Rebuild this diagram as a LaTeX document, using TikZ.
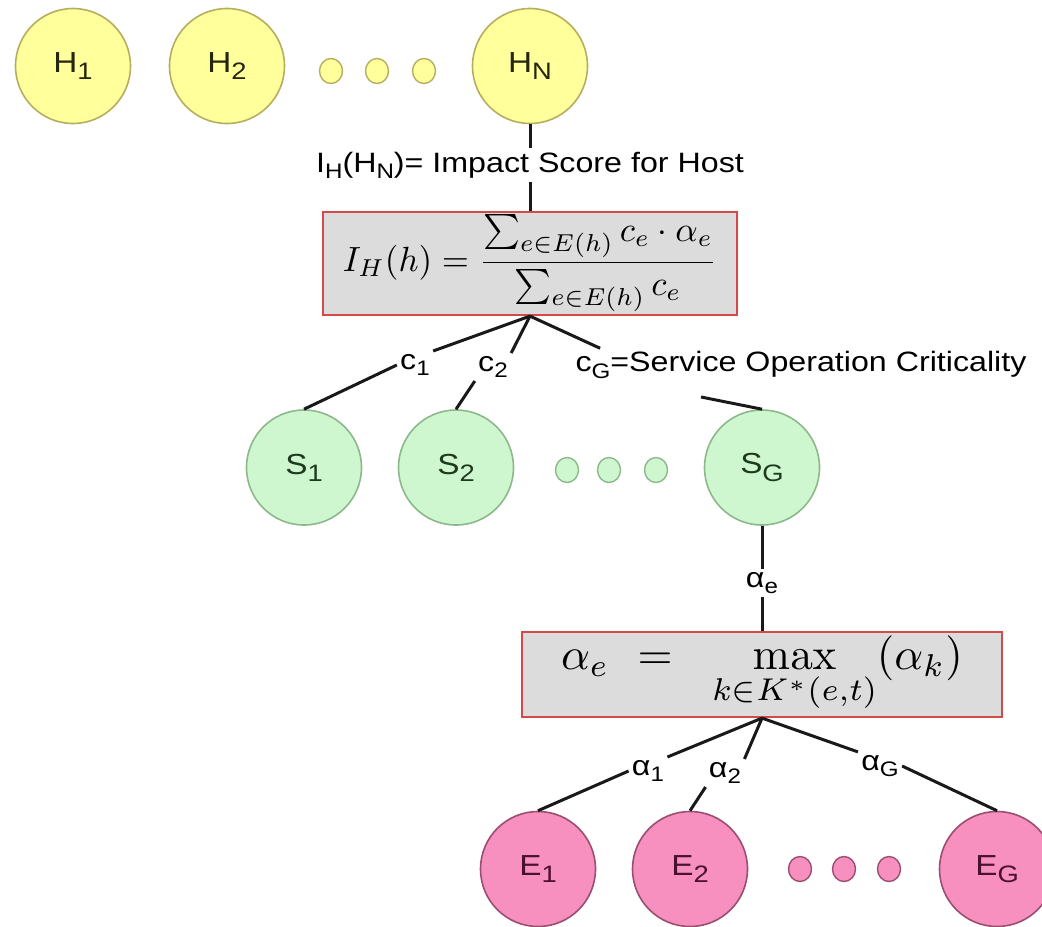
\documentclass[tikz,border=0pt]{standalone}
\usepackage[no-math]{fontspec}
\usepackage{amsmath}
\usepackage{graphicx}
\usetikzlibrary{shapes.geometric}

% sans labels, slightly widened
\newfontfamily\labfont{Liberation Sans}[FakeStretch=1.15]
\newcommand\lowsub[1]{\raisebox{-0.22em}{\scalebox{0.75}{#1}}}
\newcommand\nodesub[1]{\raisebox{-0.25em}{\scalebox{0.82}{#1}}}

\definecolor{hfill}{HTML}{FFFF9C}
\definecolor{hdraw}{HTML}{B5AE5E}
\definecolor{htext}{HTML}{26260E}
\definecolor{sfill}{HTML}{CFF7CF}
\definecolor{sdraw}{HTML}{8CB88C}
\definecolor{stext}{HTML}{1E3A1E}
\definecolor{efill}{HTML}{F78FBF}
\definecolor{edraw}{HTML}{9A4E70}
\definecolor{etext}{HTML}{4A1030}
\definecolor{boxfill}{HTML}{DCDCDC}
\definecolor{boxdraw}{HTML}{D44A4A}

\tikzset{
  vertex/.style={circle, line width=0.8pt, minimum size=57.5pt, inner sep=0pt,
    font=\fontsize{14.5}{17}\labfont},
  hostnode/.style={vertex, draw=hdraw, fill=hfill, text=htext},
  servnode/.style={vertex, draw=sdraw, fill=sfill, text=stext},
  evtnode/.style={vertex, draw=edraw, fill=efill, text=etext},
  gapdot/.style={ellipse, line width=0.7pt, minimum width=11.5pt,
    minimum height=12.5pt, inner sep=0pt},
  hostdot/.style={gapdot, draw=hdraw, fill=hfill},
  servdot/.style={gapdot, draw=sdraw, fill=sfill},
  evtdot/.style={gapdot, draw=edraw, fill=efill},
  formbox/.style={draw=boxdraw, fill=boxfill, line width=1.1pt, inner sep=0pt},
  edgelab/.style={font=\fontsize{14}{16}\labfont, inner sep=1.5pt},
  link/.style={draw=black!90, line width=1.5pt},
}

\begin{document}
\begin{tikzpicture}[x=0.5pt,y=-0.5pt]
\useasboundingbox (0,0) rectangle (1042,926);

% hosts
\node[hostnode] (H1) at (73,66) {H\nodesub{1}};
\node[hostnode] (H2) at (227,66) {H\nodesub{2}};
\node[hostdot] (hd1) at (331,71) {};
\node[hostdot] (hd2) at (377,71) {};
\node[hostdot] (hd3) at (424,71) {};
\node[hostnode] (HN) at (530,66) {H\nodesub{N}};

\node[edgelab] (IH) at (530,165) {I\lowsub{H}(H\lowsub{N})= Impact Score for Host};

\node[formbox, minimum width=207pt, minimum height=51.5pt] (B1) at (530,263.5)
  {\scalebox{1.75}{$\displaystyle I_H(h)=\frac{\sum_{e\in E(h)} c_e\cdot\alpha_e}{\sum_{e\in E(h)} c_e}$}};

% services
\node[servnode] (S1) at (304,467.5) {S\nodesub{1}};
\node[servnode] (S2) at (456,467.5) {S\nodesub{2}};
\node[servdot] (sd1) at (567,470) {};
\node[servdot] (sd2) at (609,470) {};
\node[servdot] (sd3) at (656,470) {};
\node[servnode] (SG) at (762,467.5) {S\nodesub{G}};

\node[edgelab] (c1) at (415,365) {c\lowsub{1}};
\node[edgelab] (c2) at (493,367) {c\lowsub{2}};
\node[edgelab] (cG) at (801,365) {c\lowsub{G}=Service Operation Criticality};
\coordinate (cGfoot) at (701,397);

\node[edgelab] (ae) at (762,583) {α\lowsub{e}};

\node[formbox, minimum width=240pt, minimum height=42.5pt] (B2) at (762,674.5)
  {\scalebox{2.25}{$\displaystyle \alpha_e\hspace{0.35em}=\hspace{0.6em}\max_{k\in K^*(e,t)}(\alpha_k)$}};

\node[edgelab] (a1) at (648,771) {α\lowsub{1}};
\node[edgelab] (a2) at (725,773) {α\lowsub{2}};
\node[edgelab] (aG) at (880,766) {α\lowsub{G}};

% events
\node[evtnode] (E1) at (538,869) {E\nodesub{1}};
\node[evtnode] (E2) at (690,869) {E\nodesub{2}};
\node[evtdot] (ed1) at (800,869) {};
\node[evtdot] (ed2) at (844,869) {};
\node[evtdot] (ed3) at (889,869) {};
\node[evtnode] (EG) at (997,869) {E\nodesub{G}};

% connectors
\draw[link] (HN.south) -- (IH.north);
\draw[link] (IH.south) -- (B1.north);
\draw[link] (B1.south) -- (c1.north east);
\draw[link] (c1.west) -- (S1.north);
\draw[link] (B1.south) -- (c2.north east);
\draw[link] (c2.south west) -- (S2.north);
\draw[link] (B1.south) -- ([xshift=14pt]cG.north west);
\draw[link] (cGfoot) -- (SG.north);
\draw[link] (SG.south) -- (ae.north);
\draw[link] (ae.south) -- (B2.north);
\draw[link] (B2.south) -- (a1.north east);
\draw[link] (a1.west) -- (E1.north);
\draw[link] (B2.south) -- (a2.north east);
\draw[link] (a2.south west) -- (E2.north);
\draw[link] (B2.south) -- (aG.north west);
\draw[link] (aG.east) -- (EG.north);
\end{tikzpicture}
\end{document}
